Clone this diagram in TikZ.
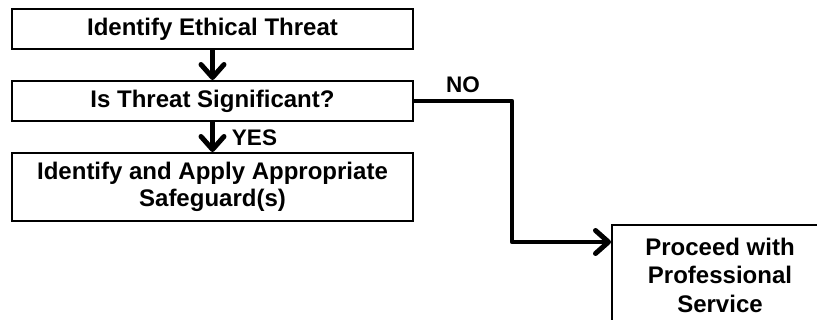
\documentclass[tikz,border=0pt]{standalone}
\usepackage{fontspec}
\setmainfont{Liberation Sans}
\usetikzlibrary{arrows.meta}
\begin{document}
\begin{tikzpicture}[x=1pt,y=-1pt,
  box/.style={draw=black,line width=2pt,fill=white,inner sep=0pt,font=\bfseries\fontsize{24}{27}\selectfont,align=center},
  conn/.style={line width=4.5pt,-{Straight Barb[length=13pt,width=23pt,line width=5pt,round]}},
  lbl/.style={font=\bfseries\fontsize{22.5}{25}\selectfont,inner sep=0pt}]
\useasboundingbox (0,0) rectangle (817,320);
\clip (0,0) rectangle (817,320);
\node[box,minimum width=401pt,minimum height=40pt] (b1) at (212.5,29) {Identify Ethical Threat};
\node[box,minimum width=401pt,minimum height=40pt] (b2) at (212.5,101) {Is Threat Significant?};
\node[box,minimum width=401pt,minimum height=68pt] (b3) at (212.5,187) {Identify and Apply Appropriate\\Safeguard(s)};
\node[box,minimum width=218pt,minimum height=110pt,anchor=north west] (b4) at (611,224) {};
\node[font=\bfseries\fontsize{24}{28.5}\selectfont,align=center,inner sep=0pt] (t4) at (720,275) {Proceed with\\Professional\\Service};
\draw[conn] (b1.south) -- (b2.north);
\draw[conn] (b2.south) -- (b3.north);
\coordinate (k1) at (512,101);
\coordinate (k2) at (512,242);
\draw[conn,line join=round] (b2.east) -- (k1) -- (k2) -- (b4.west |- k2);
\node[lbl] (yes) at (254.5,138) {YES};
\node[lbl] (no) at (463,85) {NO};
\end{tikzpicture}
\end{document}
